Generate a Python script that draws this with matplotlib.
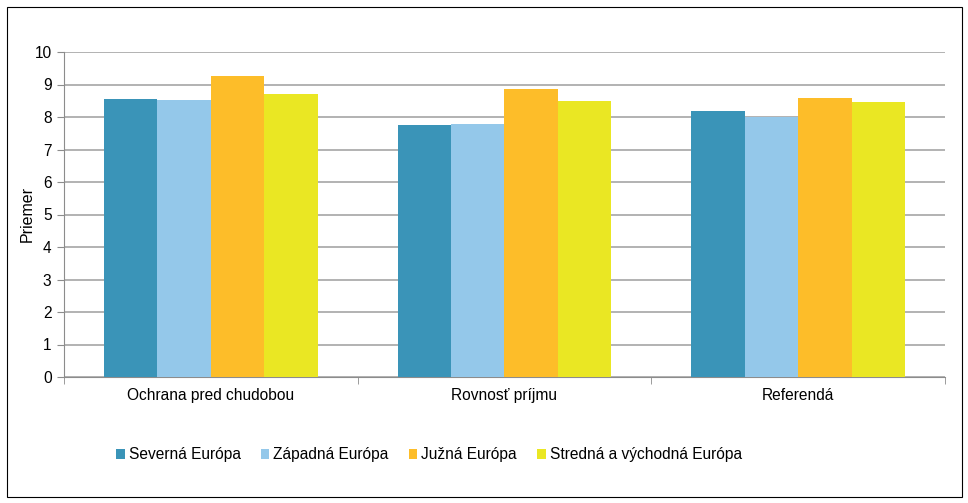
import matplotlib.pyplot as plt
import numpy as np
from matplotlib.patches import Rectangle

plt.rcParams['font.family'] = ['Liberation Sans', 'DejaVu Sans']

categories = ["Ochrana pred chudobou", "Rovnosť príjmu", "Referendá"]
series = ["Severná Európa", "Západná Európa", "Južná Európa", "Stredná a východná Európa"]
severna = [8.55, 7.75, 8.18]
zapadna = [8.53, 7.78, 8.00]
juzna = [9.26, 8.87, 8.58]
stredna = [8.72, 8.49, 8.45]
colors = ["#3A94B8", "#94C8EA", "#FDBD29", "#EAE723"]

fig = plt.figure(figsize=(9.68, 5.03), dpi=100)
ax = fig.add_axes([64/968, 1 - 377/503, (945-64)/968, (377-52)/503])

fig.patches.append(Rectangle((7/968, 6/503), 955/968, 490/503, transform=fig.transFigure,
                             fill=False, edgecolor="#000000", linewidth=0.8))

x = np.arange(len(categories))
w = 0.727 / 4
for i, (vals, c) in enumerate(zip([severna, zapadna, juzna, stredna], colors)):
    ax.bar(x + (i - 1.5) * w, vals, width=w, color=c, label=series[i], zorder=3)

ax.set_xlim(-0.5, 2.5)
ax.set_ylim(0, 10)
ax.set_yticks(range(0, 11))
ax.yaxis.grid(True, color="#A6A6A6", linewidth=1.2, zorder=0)
ax.set_xticks(x)
ax.set_xticklabels(categories)
ax.set_xticks([-0.5, 0.5, 1.5, 2.5], minor=True)
ax.tick_params(axis="x", which="major", length=0, pad=8, labelsize=11.2)
ax.tick_params(axis="x", which="minor", length=5, color="#8C8C8C")
ax.tick_params(axis="y", length=5, color="#8C8C8C", labelsize=11.2, pad=4)
for s in ["top", "right"]:
    ax.spines[s].set_visible(False)
for s in ["left", "bottom"]:
    ax.spines[s].set_color("#8C8C8C")
ax.set_ylabel("Priemer", fontsize=11.5, labelpad=0)

ax.legend(loc="center", bbox_to_anchor=(429/968, 1 - 455/503), bbox_transform=fig.transFigure,
          ncol=4, frameon=False, fontsize=11.2, handlelength=0.55, handleheight=0.55,
          handletextpad=0.25, columnspacing=1.3)

fig.savefig("out.png", dpi=100)
